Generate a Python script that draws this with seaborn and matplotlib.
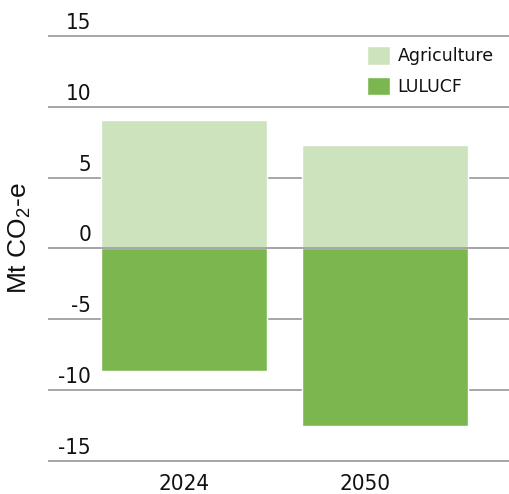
import numpy as np
import pandas as pd
import matplotlib
matplotlib.use("Agg")
import matplotlib.pyplot as plt
import matplotlib.font_manager as fm
import seaborn as sns

years = ["2024", "2050"]
agriculture = [9.1, 7.3]
lulucf = [-8.65, -12.5]
yticks = [-15, -10, -5, 0, 5, 10, 15]

light_green = "#cde3bd"
dark_green = "#7bb64f"
grid_grey = "#a6a6a6"

sns.set_style("white")
plt.rcParams['font.family'] = ['DejaVu Sans']
plt.rcParams['text.color'] = '#111111'
plt.rcParams['xtick.color'] = '#111111'
plt.rcParams['ytick.color'] = '#111111'
plt.rcParams['mathtext.fontset'] = 'custom'
plt.rcParams['mathtext.rm'] = 'Liberation Sans'
plt.rcParams['mathtext.it'] = 'Liberation Sans:italic'

tick_font = fm.FontProperties(family="DejaVu Sans", stretch="condensed", size=16)

df = pd.DataFrame({"year": years, "Agriculture": agriculture, "LULUCF": lulucf})

fig = plt.figure(figsize=(5.09, 4.94), dpi=100)
ax = fig.add_axes([48 / 509, (33 - 2.8) / 494, 461 / 509, (425 + 5.7) / 494])

sns.barplot(data=df, x="year", y="Agriculture", color=light_green,
            width=0.826, saturation=1, ax=ax, zorder=2, label="Agriculture")
sns.barplot(data=df, x="year", y="LULUCF", color=dark_green,
            width=0.826, saturation=1, ax=ax, zorder=2, label="LULUCF")

ax.set_ylim(-15.2, 15.2)
ax.set_xlim(-0.677, 1.617)
ax.set_yticks(yticks)
ax.set_yticklabels([str(v) for v in yticks])
for y in yticks:
    ax.axhline(y, color=grid_grey, lw=1.4, zorder=1)
ax.axhline(0, color=grid_grey, lw=1.4, zorder=3)

ax.tick_params(axis="y", length=0, pad=-31)
for lab in ax.get_yticklabels():
    lab.set_fontproperties(tick_font)
    lab.set_verticalalignment("bottom")
    lab.set_transform(lab.get_transform() + matplotlib.transforms.ScaledTranslation(0, 3 / 100, fig.dpi_scale_trans))

ax.set_xticks([0, 0.9])
ax.set_xticklabels(years)
ax.tick_params(axis="x", length=0, pad=7)
for lab in ax.get_xticklabels():
    lab.set_fontproperties(tick_font)

ax.set_xlabel("")
ax.set_ylabel("")
fig.text(20 / 509, 1 - 238 / 494, "Mt CO$_2$-e", rotation=90, ha="center", va="center",
         fontsize=19, family="Liberation Sans")

for s in ax.spines.values():
    s.set_visible(False)

leg = ax.legend(loc="upper left", bbox_to_anchor=(367 / 509, 1 - 46 / 494),
                bbox_transform=fig.transFigure, frameon=False, borderpad=0,
                borderaxespad=0, handlelength=1.3, handleheight=1.3,
                handletextpad=0.45, labelspacing=0.65,
                prop={"family": "DejaVu Sans", "size": 12.5})

fig.savefig("out.png", dpi=100)
